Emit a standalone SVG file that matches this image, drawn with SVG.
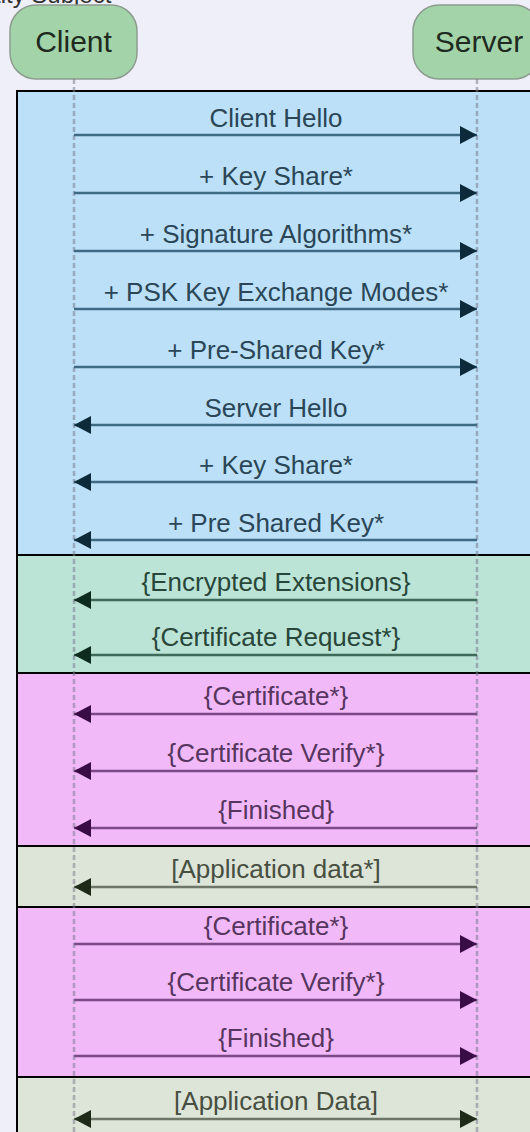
<svg xmlns="http://www.w3.org/2000/svg" width="530" height="1132" viewBox="0 0 530 1132">
<style>
text{font-family:"Liberation Sans",Arial,sans-serif;}
.actor rect{fill:#a3d4a9;stroke:#8e9c90;stroke-width:1.5;}
.actor text{font-size:30px;fill:#1f2a21;text-anchor:middle;}
.sec{stroke:#000;stroke-width:2;}
.life{stroke:#7c7c90;stroke-opacity:0.55;stroke-width:2.5;stroke-dasharray:5 3;fill:none;}
.msg{stroke-width:2.5;fill:none;}
.lbl{font-size:26px;text-anchor:middle;}
.b .msg{stroke:#3e6a84;} .b .lbl{fill:#2a4657;}
.g .msg{stroke:#3d6a59;} .g .lbl{fill:#28473a;}
.p .msg{stroke:#7b4a86;} .p .lbl{fill:#56355f;}
.y .msg{stroke:#6e7767;} .y .lbl{fill:#474f41;}
</style>
<defs>
<marker id="hb" viewBox="0 0 17 18" refX="17" refY="9" markerWidth="17" markerHeight="18" markerUnits="userSpaceOnUse" orient="auto-start-reverse"><path d="M0,0 L17,9 L0,18 z" fill="#0d2a3a"/></marker>
<marker id="hg" viewBox="0 0 17 18" refX="17" refY="9" markerWidth="17" markerHeight="18" markerUnits="userSpaceOnUse" orient="auto-start-reverse"><path d="M0,0 L17,9 L0,18 z" fill="#0d2b1e"/></marker>
<marker id="hp" viewBox="0 0 17 18" refX="17" refY="9" markerWidth="17" markerHeight="18" markerUnits="userSpaceOnUse" orient="auto-start-reverse"><path d="M0,0 L17,9 L0,18 z" fill="#3a0c46"/></marker>
<marker id="hy" viewBox="0 0 17 18" refX="17" refY="9" markerWidth="17" markerHeight="18" markerUnits="userSpaceOnUse" orient="auto-start-reverse"><path d="M0,0 L17,9 L0,18 z" fill="#1e2a17"/></marker>
</defs>
<rect x="0" y="0" width="530" height="1132" fill="#efeff9"/>
<text x="-6" y="3" style="font-size:24px;fill:#333;">tity Subject</text>

<g id="sections">
<rect class="sec" x="17" y="91" width="530" height="464" fill="#bbe0f7"/>
<rect class="sec" x="17" y="555" width="530" height="118" fill="#bbe3d6"/>
<rect class="sec" x="17" y="673" width="530" height="173" fill="#f2b9f9"/>
<rect class="sec" x="17" y="846" width="530" height="61" fill="#dde4d8"/>
<rect class="sec" x="17" y="907" width="530" height="170" fill="#f2b9f9"/>
<rect class="sec" x="17" y="1077" width="530" height="70" fill="#dde4d8"/>
</g>

<g id="client" class="actor">
<rect x="10" y="5" width="127" height="74" rx="26"/>
<text x="73.5" y="52">Client</text>
</g>
<g id="server" class="actor">
<rect x="413" y="5" width="127" height="74" rx="26"/>
<text x="479" y="52">Server</text>
</g>

<g id="lifelines">
<line class="life" x1="74" y1="79" x2="74" y2="1132"/>
<line class="life" x1="477" y1="79" x2="477" y2="1132"/>
</g>

<g id="connectors">
<g class="b">
<line class="msg" x1="74" y1="135" x2="477" y2="135" marker-end="url(#hb)"/><text class="lbl" x="276" y="127">Client Hello</text>
<line class="msg" x1="74" y1="193" x2="477" y2="193" marker-end="url(#hb)"/><text class="lbl" x="276" y="185">+ Key Share*</text>
<line class="msg" x1="74" y1="251" x2="477" y2="251" marker-end="url(#hb)"/><text class="lbl" x="276" y="243">+ Signature Algorithms*</text>
<line class="msg" x1="74" y1="309" x2="477" y2="309" marker-end="url(#hb)"/><text class="lbl" x="276" y="301">+ PSK Key Exchange Modes*</text>
<line class="msg" x1="74" y1="367" x2="477" y2="367" marker-end="url(#hb)"/><text class="lbl" x="276" y="359">+ Pre-Shared Key*</text>
<line class="msg" x1="477" y1="425" x2="74" y2="425" marker-end="url(#hb)"/><text class="lbl" x="276" y="417">Server Hello</text>
<line class="msg" x1="477" y1="482" x2="74" y2="482" marker-end="url(#hb)"/><text class="lbl" x="276" y="474">+ Key Share*</text>
<line class="msg" x1="477" y1="540" x2="74" y2="540" marker-end="url(#hb)"/><text class="lbl" x="276" y="532">+ Pre Shared Key*</text>
</g>
<g class="g">
<line class="msg" x1="477" y1="600" x2="74" y2="600" marker-end="url(#hg)"/><text class="lbl" x="276" y="591">{Encrypted Extensions}</text>
<line class="msg" x1="477" y1="655" x2="74" y2="655" marker-end="url(#hg)"/><text class="lbl" x="276" y="646">{Certificate Request*}</text>
</g>
<g class="p">
<line class="msg" x1="477" y1="714" x2="74" y2="714" marker-end="url(#hp)"/><text class="lbl" x="276" y="705">{Certificate*}</text>
<line class="msg" x1="477" y1="771" x2="74" y2="771" marker-end="url(#hp)"/><text class="lbl" x="276" y="762">{Certificate Verify*}</text>
<line class="msg" x1="477" y1="828" x2="74" y2="828" marker-end="url(#hp)"/><text class="lbl" x="276" y="819">{Finished}</text>
</g>
<g class="y">
<line class="msg" x1="477" y1="887" x2="74" y2="887" marker-end="url(#hy)"/><text class="lbl" x="276" y="878">[Application data*]</text>
</g>
<g class="p">
<line class="msg" x1="74" y1="944" x2="477" y2="944" marker-end="url(#hp)"/><text class="lbl" x="276" y="935">{Certificate*}</text>
<line class="msg" x1="74" y1="1000" x2="477" y2="1000" marker-end="url(#hp)"/><text class="lbl" x="276" y="991">{Certificate Verify*}</text>
<line class="msg" x1="74" y1="1056" x2="477" y2="1056" marker-end="url(#hp)"/><text class="lbl" x="276" y="1047">{Finished}</text>
</g>
<g class="y">
<line class="msg" x1="74" y1="1119" x2="477" y2="1119" marker-start="url(#hy)" marker-end="url(#hy)"/><text class="lbl" x="276" y="1110">[Application Data]</text>
</g>
</g>
</svg>
